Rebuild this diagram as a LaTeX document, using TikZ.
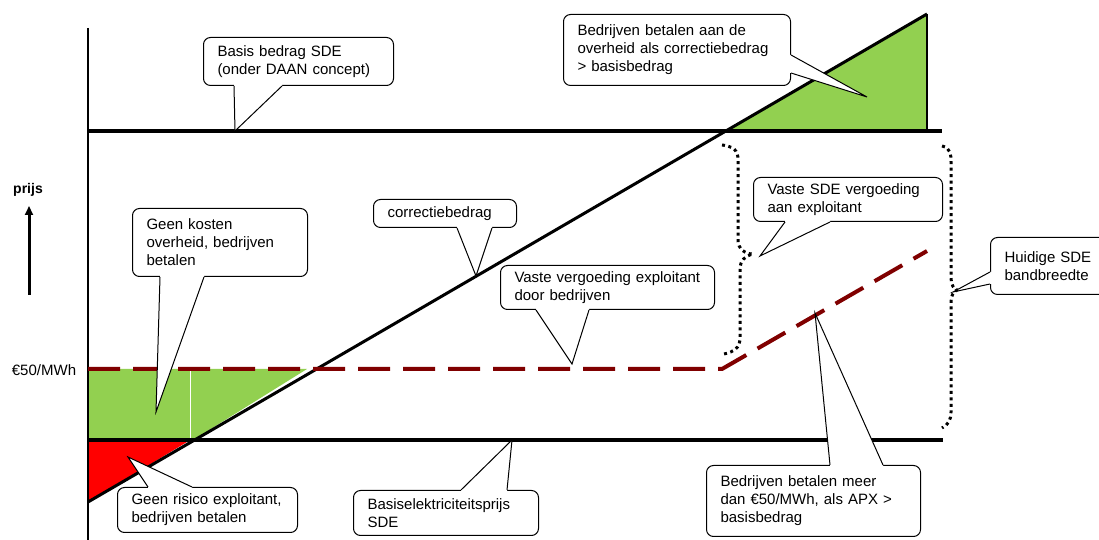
\documentclass[tikz,border=0pt]{standalone}
\usepackage{fontspec}
\setmainfont{Liberation Sans}
\usepackage{tikz}
\usetikzlibrary{arrows.meta,positioning}
\definecolor{greenzone}{HTML}{92D050}
\definecolor{redzone}{HTML}{FF0000}
\definecolor{fixedfee}{HTML}{800000}
\newcommand\notefont{\fontsize{15}{18}\selectfont}
% tail of a callout: base points #1 #2, tip #3, shift into the box #4
\newcommand\notetail[4]{%
  \fill[white] ([shift={(#4)}]#1) -- (#1) -- (#3) -- (#2) -- ([shift={(#4)}]#2) -- cycle;
  \draw[tail] (#1) -- (#3) -- (#2);
}
\tikzset{
  note/.style={draw,line width=1pt,fill=white,rounded corners=7pt,align=left,
    anchor=north west,inner xsep=14pt,inner ysep=2pt,font=\notefont},
  tail/.style={line width=1pt},
  level/.style={line width=3.5pt},
  fee/.style={draw=fixedfee,line width=4pt,dash pattern=on 32pt off 13pt},
  band/.style={line width=3pt,dash pattern=on 3pt off 3.5pt},
}

\begin{document}
\begin{tikzpicture}[x=1pt,y=1pt]
    \useasboundingbox (0,0) rectangle (1099,540);

    \coordinate (axtop) at (88,512);
    \coordinate (axbot) at (88,0);
    \coordinate (diagA) at (88,38);
    \coordinate (diagB) at (927,526);

    % areas
    \fill[greenzone] (88,171) -- (307,171) -- (193,100) -- (88,100) -- cycle;
    \draw[white,line width=0.6pt] (190,100) -- (190,171);
    \fill[redzone] (88,98) -- (187,98) -- (diagA) -- cycle;
    \fill[greenzone] (726,409) -- (diagB) -- (927,409) -- cycle;
    \draw[line width=1.5pt] (diagB) -- (927,409);

    % axis and levels
    \draw[line width=1.5pt] (axtop) -- (axbot);
    \draw[level] (88,409) -- (942,409);
    \draw[level] (88,100) -- (943,100);
    \draw[line width=3pt] (diagA) -- (diagB);
    \draw[fee] (88,171) -- (722,171) -- (927,289);

    % bandwidths
    \draw[band] (722,395) .. controls (738,393) and (738,386) .. (738,378)
      -- (738,300) .. controls (738,291) and (745,286) .. (753,286)
      .. controls (745,284) and (740,280) .. (740,270)
      -- (740,200) .. controls (740,193) and (734,188) .. (724,186);
    \draw[band] (942,394) .. controls (951,392) and (951,385) .. (951,378)
      -- (951,262) .. controls (951,255) and (954,251) .. (957,250)
      .. controls (954,249) and (951,245) .. (951,238)
      -- (951,128) .. controls (951,120) and (948,115) .. (942,112);

    % price axis label
    \path
    (28,350) node[font=\bfseries\fontsize{14}{16}\selectfont] (prijs) {prijs}
    (29,245) coordinate (arrowbot)
    (29,334) coordinate (arrowtop)
    (44,170) node[font=\notefont] (limit) {€50/MWh}
    ;
    \draw[line width=3pt,-{Triangle[length=9pt,width=8pt]}] (arrowbot) -- (arrowtop);

    % callouts
    \path
    (203,503) node[note,text width=162,minimum height=48] (basisnote)
      {Basis bedrag SDE\\(onder DAAN concept)}
    (563,526) node[note,text width=199,minimum height=71] (overheidnote)
      {Bedrijven betalen aan de\\overheid als correctiebedrag\\> basisbedrag}
    (132,332) node[note,text width=147,minimum height=68] (kostennote)
      {Geen kosten\\overheid, bedrijven\\betalen}
    (117,53) node[note,text width=152,minimum height=45] (risiconote)
      {Geen risico exploitant,\\bedrijven betalen}
    (373,341) node[note,text width=115,minimum height=28] (correctienote)
      {correctiebedrag}
    (500,275) node[note,text width=186,minimum height=44] (vastenote)
      {Vaste vergoeding exploitant\\door bedrijven}
    (353,50) node[note,text width=157,minimum height=45] (elecnote)
      {Basiselektriciteitsprijs\\SDE}
    (753,363) node[note,text width=161,minimum height=44] (sdenote)
      {Vaste SDE vergoeding\\aan exploitant}
    (990,303) node[note,text width=94,minimum height=57] (bandnote)
      {Huidige SDE\\bandbreedte}
    (706,75) node[note,text width=186,minimum height=71] (meernote)
      {Bedrijven betalen meer\\dan €50/MWh, als APX >\\basisbedrag}
    ;

    \path
    (235,409) coordinate (basistip)
    (867,443) coordinate (overheidtip)
    (156,128) coordinate (kostentip)
    (128,83) coordinate (risicotip)
    (476,264) coordinate (correctietip)
    (572,176) coordinate (vastetip)
    (512,100) coordinate (electip)
    (760,284) coordinate (sdetip)
    (953,248) coordinate (bandtip)
    (815,227) coordinate (meertip)
    ([xshift=31]basisnote.south west) coordinate (basisA)
    ([xshift=79]basisnote.south west) coordinate (basisB)
    ([yshift=-41]overheidnote.north east) coordinate (overheidA)
    ([yshift=-59]overheidnote.north east) coordinate (overheidB)
    ([xshift=28]kostennote.south west) coordinate (kostenA)
    ([xshift=72]kostennote.south west) coordinate (kostenB)
    ([xshift=31]risiconote.north west) coordinate (risicoA)
    ([xshift=75]risiconote.north west) coordinate (risicoB)
    ([xshift=84]correctienote.south west) coordinate (correctieA)
    ([xshift=119]correctienote.south west) coordinate (correctieB)
    ([xshift=36]vastenote.south west) coordinate (vasteA)
    ([xshift=89]vastenote.south west) coordinate (vasteB)
    ([xshift=108]elecnote.north west) coordinate (elecA)
    ([xshift=154]elecnote.north west) coordinate (elecB)
    ([xshift=32]sdenote.south west) coordinate (sdeA)
    ([xshift=77]sdenote.south west) coordinate (sdeB)
    ([yshift=-35]bandnote.north west) coordinate (bandA)
    ([yshift=-47]bandnote.north west) coordinate (bandB)
    ([xshift=124]meernote.north west) coordinate (meerA)
    ([xshift=177]meernote.north west) coordinate (meerB)
    ;
    \notetail{basisA}{basisB}{basistip}{0,2}
    \notetail{overheidA}{overheidB}{overheidtip}{-2,0}
    \notetail{kostenA}{kostenB}{kostentip}{0,2}
    \notetail{risicoA}{risicoB}{risicotip}{0,-2}
    \notetail{correctieA}{correctieB}{correctietip}{0,2}
    \notetail{vasteA}{vasteB}{vastetip}{0,2}
    \notetail{elecA}{elecB}{electip}{0,-2}
    \notetail{sdeA}{sdeB}{sdetip}{0,2}
    \notetail{bandA}{bandB}{bandtip}{2,0}
    \notetail{meerA}{meerB}{meertip}{0,-2}
  \end{tikzpicture}
\end{document}
